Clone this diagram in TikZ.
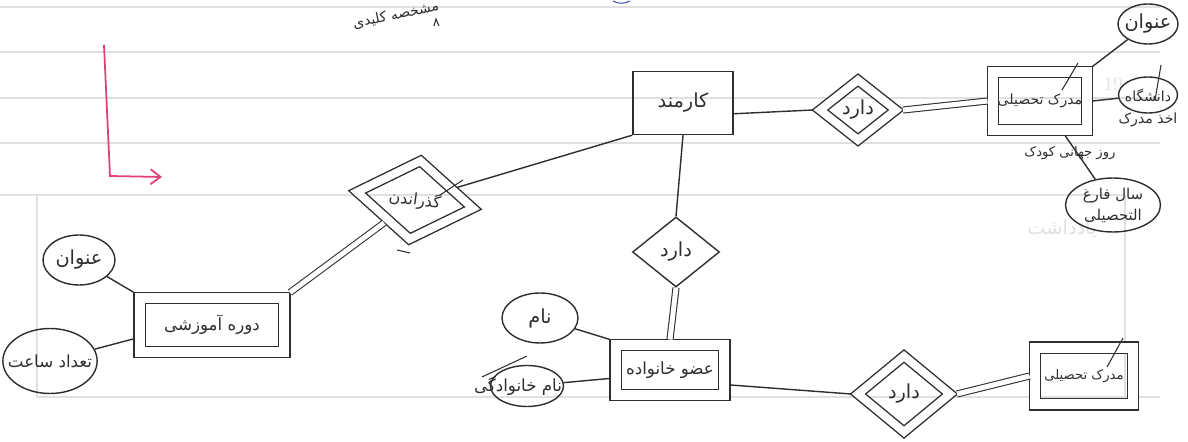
\documentclass[tikz,border=0pt]{standalone}
\usepackage{fontspec}
\usetikzlibrary{shapes.geometric, arrows.meta}
\TeXXeTstate=1
\newfontfamily\arabicfont[Script=Arabic]{DejaVu Sans}
\newcommand{\fa}[1]{\arabicfont\beginR #1\endR}
\definecolor{ink}{gray}{0.18}
\definecolor{rule}{gray}{0.88}
\definecolor{pinkpen}{RGB}{226,62,120}
\definecolor{bluepen}{RGB}{70,80,190}

\begin{document}
\begin{tikzpicture}[x=0.02cm, y=-0.02cm, line width=0.8pt, draw=ink, text=ink]
        \tikzstyle{every node}=[inner sep=0pt, font=\fontsize{11}{13}\selectfont]
        \tikzstyle{entity}=[draw, rectangle]
        \tikzstyle{weak}=[entity, double, double distance=2mm, outer sep=1.1mm]
        \tikzstyle{rel}=[draw, diamond]
        \tikzstyle{weakrel}=[rel, double, double distance=1.6mm, outer sep=1mm]
        \tikzstyle{attr}=[draw, ellipse, inner sep=-5pt, align=center]
        \tikzstyle{twin}=[double, double distance=1mm, line width=0.6pt]
        \tikzstyle{penstroke}=[line width=0.6pt]
        \useasboundingbox (0,0) rectangle (1188,442);
        % paper
        \foreach \y in {7,52,98,143} \draw[rule] (0,\y) -- (1160,\y);
        \draw[rule] (0,195) -- (37,195) -- (1125,195) (37,195) -- (37,397) -- (1125,397) -- (1125,195) (1125,397) -- (1160,397);
        \node[text=rule, font=\fontsize{11}{13}\selectfont] (daynum) at (1113,84) {19};
        \node[text=rule] (notes) at (1062,229) {\fa{یادداشت}};
        \node[font=\fontsize{7.5}{9}\selectfont] (printed) at (1070,153) {\fa{روز جهانی کودک}};
        % pink arrow
        \coordinate (pinkstart) at (104,45);
        \coordinate (pinkcorner) at (110,176);
        \coordinate (pinkend) at (162,177);
        \draw[pinkpen, -{Straight Barb[length=2mm, width=3mm]}, line width=1pt] (pinkstart) -- (pinkcorner) -- (pinkend);
        % top scribble
        \node[rotate=12, font=\fontsize{8}{10}\selectfont] (scribble) at (396,15) {\fa{مشخصه کلیدی}};
        \draw[penstroke] (434,26) -- (436,19) -- (439,26);
        \draw[bluepen, penstroke] (613,1) .. controls (618,4) and (624,4) .. (630,1);
        % entities
        \node[entity, minimum width=2cm, minimum height=1.26cm] (employee) at (683,103) {\fa{کارمند}};
        \node[weak, minimum width=1.88cm, minimum height=1.16cm, font=\fontsize{8}{10}\selectfont] (degree) at (1040,101) {\fa{مدرک تحصیلی}};
        \node[weak, minimum width=2.9cm, minimum height=1.08cm, font=\fontsize{9.5}{11}\selectfont] (course) at (212,325) {\fa{دوره آموزشی}};
        \node[weak, minimum width=2.18cm, minimum height=1cm, font=\fontsize{9.5}{11}\selectfont] (member) at (670,370) {\fa{عضو خانواده}};
        \node[weak, minimum width=1.96cm, minimum height=1.14cm, font=\fontsize{7.5}{9}\selectfont] (record) at (1084,376) {\fa{مدرک تحصیلی}};
        % relations
        \node[weakrel, minimum width=1.6cm, minimum height=1.28cm] (hasdegree) at (858,110) {\fa{دارد}};
        \node[weakrel, rotate=-8, minimum width=2.42cm, minimum height=1.66cm, font=\fontsize{9}{11}\selectfont] (passes) at (415,200) {\fa{گذراندن}};
        \node[rel, minimum width=1.74cm, minimum height=1.4cm] (hasmember) at (676,252) {\fa{دارد}};
        \node[weakrel, minimum width=1.92cm, minimum height=1.6cm] (hasrecord) at (904,394) {\fa{دارد}};
        % attributes
        \node[attr, minimum width=1.2cm, minimum height=0.8cm] (title) at (1148,24) {\fa{عنوان}};
        \node[attr, minimum width=1.18cm, minimum height=0.72cm, font=\fontsize{8}{10}\selectfont] (university) at (1148,95) {\fa{دانشگاه}};
        \node[font=\fontsize{8}{10}\selectfont] (takendegree) at (1148,120) {\fa{اخذ مدرک}};
        \node[attr, minimum width=1.9cm, minimum height=1.08cm, font=\fontsize{8.5}{12}\selectfont] (gradyear) at (1113,205) {\fa{سال فارغ}\\\fa{التحصیلی}};
        \node[attr, minimum width=1.44cm, minimum height=1cm] (coursetitle) at (79,260) {\fa{عنوان}};
        \node[attr, minimum width=1.78cm, minimum height=1.3cm, font=\fontsize{9.5}{11}\selectfont] (hours) at (50,361) {\fa{تعداد ساعت}};
        \node[attr, minimum width=1.52cm, minimum height=1cm] (name) at (540,318) {\fa{نام}};
        \node[draw, ellipse, minimum width=1.46cm, minimum height=0.82cm] (surname) at (527,386) {};
        \node[font=\fontsize{9.5}{11}\selectfont] (surnametext) at (518,386) {\fa{نام خانوادگی}};
        % connectors
        \draw (employee.-12) -- (hasdegree.west);
        \draw[twin] (hasdegree.east) -- (degree.west);
        \draw (degree.north east) -- (title);
        \draw (degree.east) -- (university);
        \draw (degree.-54) -- (gradyear);
        \draw (employee.south west) -- (passes);
        \draw[twin] (passes) -- (course.north east);
        \draw (employee.south) -- (hasmember.north);
        \draw[twin] (hasmember.south) -- (member.north);
        \draw (course.north west) -- (coursetitle);
        \draw (course.-170) -- (hours);
        \draw (member.north west) -- (name);
        \draw (member.-172) -- (surname);
        \draw (member.-14) -- (hasrecord.west);
        \draw[twin] (hasrecord.east) -- (record.west);
        % pen strokes
        \draw[penstroke] (1078,63) -- (1062,90);
        \draw[penstroke] (1161,65) -- (1155,100);
        \draw[penstroke] (1123,338) -- (1107,367);
        \draw[penstroke] (482,377) -- (527,356);
        \draw[penstroke] (440,195) -- (463,180);
        \draw[penstroke] (397,250) -- (410,253);
\end{tikzpicture}
\end{document}
